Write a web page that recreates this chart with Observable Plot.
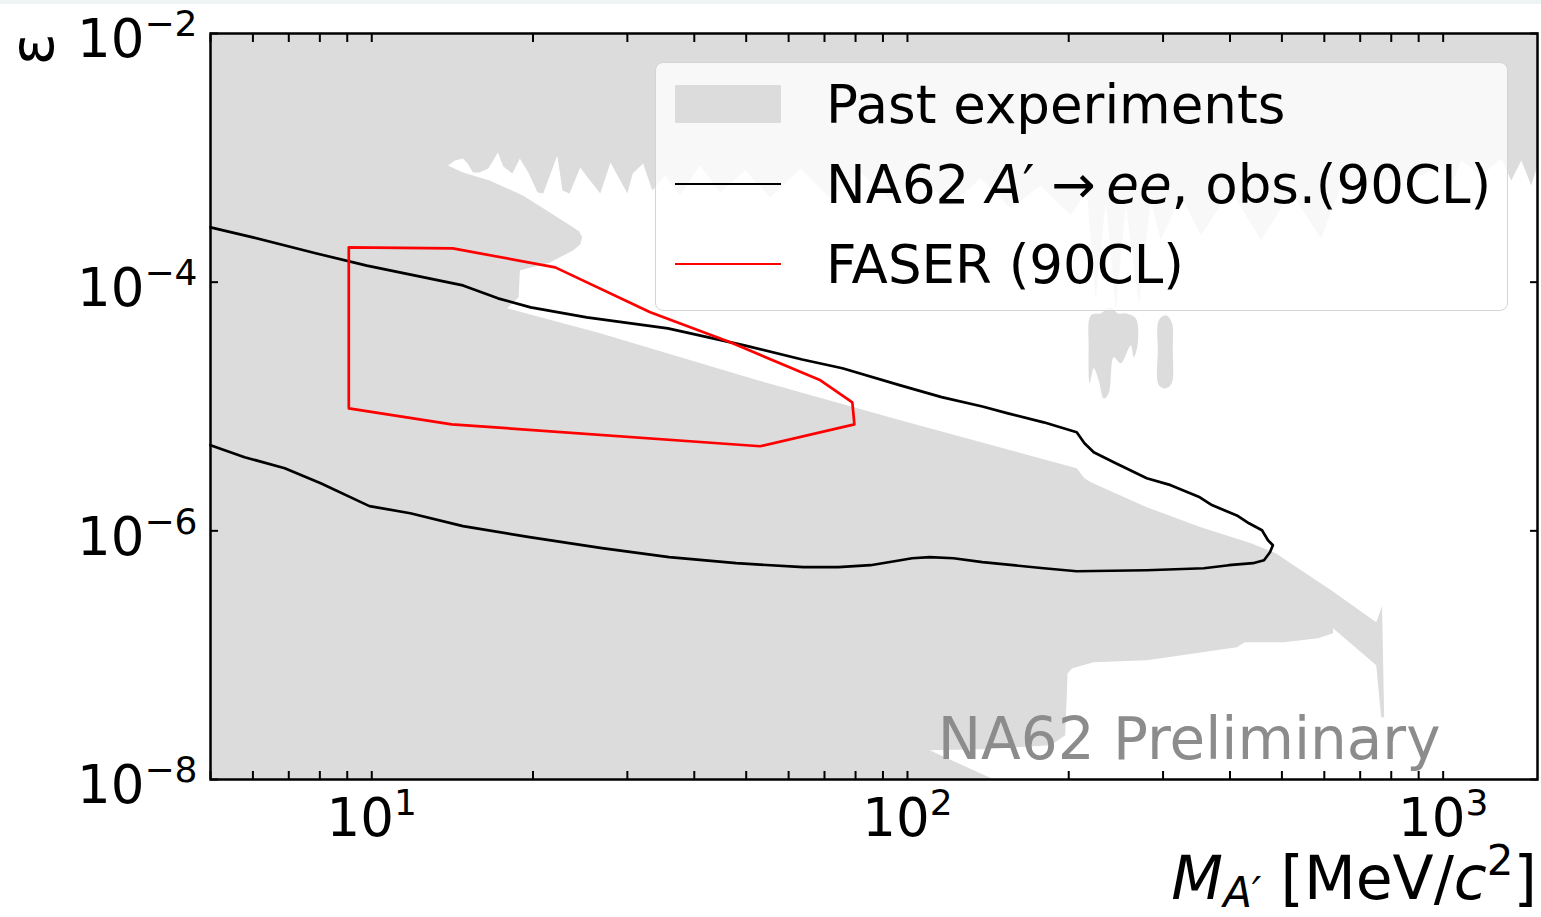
<!DOCTYPE html>
<html><head><meta charset="utf-8">
<script src="https://cdn.jsdelivr.net/npm/d3@7"></script>
<script src="https://cdn.jsdelivr.net/npm/@observablehq/plot@0.6"></script>
<style>
html,body{margin:0;padding:0;background:#fff;overflow:hidden;}
#wrap{position:relative;width:1541px;height:917px;font-family:"DejaVu Sans";}
#chart svg{display:block;}
#strip{position:absolute;left:0;top:0;width:1541px;height:4px;background:#eef3f3;}
#legend{position:absolute;left:655px;top:62px;width:853px;height:249px;box-sizing:border-box;border:1.5px solid #d4d4d4;border-radius:8px;background:rgba(255,255,255,0.8);padding-top:1px;}
.row{height:80px;display:flex;align-items:center;font-size:53px;color:#000;white-space:nowrap;font-family:"DejaVu Sans";}
.sw{width:106px;margin-left:19px;margin-right:45px;flex:none;}
</style></head>
<body><div id="wrap"><div id="chart"></div><div id="legend"></div><div id="strip"></div></div>
<script>
// ---- axis setup ----
const xDomain = [5, 1500];
const yDomain = [1e-8, 1e-2];
const xMajorTicks = [10, 100, 1000];
const xMinorTicks = [5, 6, 7, 8, 9, 20, 30, 40, 50, 60, 70, 80, 90, 200, 300, 400, 500, 600, 700, 800, 900];
const yTicks = [1e-2, 1e-4, 1e-6, 1e-8];

// ---- NA62 A' -> ee observed contour (mass MeV, epsilon) ----
const na62Contour = [
 [5.0,2.76e-4],[6.0,2.29e-4],[7.89,1.70e-4],[9.79,1.36e-4],[14.8,9.42e-5],[17.2,7.41e-5],[19.8,6.27e-5],
 [25.2,5.21e-5],[35.7,4.25e-5],[40.9,3.73e-5],[49.6,3.10e-5],[63.6,2.39e-5],[75.6,2.03e-5],[97.0,1.48e-5],
 [115.8,1.19e-5],[138,1.00e-5],[154,8.81e-6],[179.6,7.46e-6],[207,6.20e-6],[214,5.06e-6],[222.7,4.28e-6],
 [242.7,3.56e-6],[279.7,2.65e-6],[310,2.33e-6],[351.4,1.86e-6],[370,1.61e-6],[412,1.33e-6],[434,1.15e-6],
 [459,1.01e-6],[471,8.40e-7],[481,7.66e-7],[475,6.73e-7],[463,5.80e-7],[441.5,5.49e-7],[398,5.29e-7],
 [357.5,5.00e-7],[279.7,4.82e-7],[207,4.73e-7],[179.6,5.00e-7],[138,5.60e-7],[121.9,6.02e-7],[110,6.14e-7],
 [102,6.02e-7],[97,5.80e-7],[85.3,5.29e-7],[74.3,5.10e-7],[63.9,5.10e-7],[47.9,5.49e-7],[35.9,6.14e-7],
 [26.9,7.25e-7],[19.7,8.89e-7],[14.8,1.09e-6],[11.8,1.385e-6],[9.9,1.58e-6],[8.03,2.41e-6],[6.88,3.19e-6],
 [5.79,3.91e-6],[5.0,4.88e-6]
];

// ---- FASER 90CL contour ----
const faserContour = [
 [9.06,1.905e-4],[14.17,1.87e-4],[22.0,1.315e-4],[33.1,5.72e-5],[46.7,3.28e-5],[68.8,1.625e-5],
 [78.9,1.08e-5],[79.6,7.19e-6],[53.1,4.79e-6],[14.1,7.19e-6],[9.06,9.67e-6],[9.06,1.905e-4]
];

// ---- Past experiments: lower edge of the collider-type exclusion (left to right) ----
const pastColliderEdge = [
 [13.8,8.53e-4],[14.3,9.53e-4],[14.8,9.89e-4],[15.1,9.02e-4],[15.45,7.63e-4],[15.9,7.63e-4],[16.5,8.22e-4],
 [17.2,1.105e-3],[17.6,8.53e-4],[18.3,7.49e-4],[18.9,9.89e-4],[19.6,7.63e-4],[20.4,5.27e-4],[20.9,5.17e-4],
 [21.5,7.22e-4],[22.2,1.045e-3],[22.7,5.47e-4],[23.4,5.17e-4],[24.5,8.37e-4],[25.3,6.96e-4],[26.7,5.17e-4],
 [27.9,9.18e-4],[29.1,6.58e-4],[30.0,5.17e-4],[30.7,7.49e-4],[32.1,9.02e-4],[33.4,5.47e-4],[35.3,7.22e-4],
 [37.6,4.98e-4],[41.0,8.69e-4],[44.7,5.27e-4],[49.8,7.92e-4],[55.5,4.80e-4],[63.1,8.22e-4],[71.8,4.72e-4],
 [81.7,7.63e-4],[93.0,4.55e-4],[105.8,7.22e-4],[120.3,4.14e-4],[136.9,6.83e-4],[155.8,3.92e-4],[177.3,6.00e-4],
 [201.7,3.44e-4],[216.1,5.47e-4],[224.6,7.14e-5],[234.5,4.55e-4],[244.8,5.93e-5],[255.6,4.14e-4],[270.3,6.51e-5],
 [284.6,4.55e-4],[297.1,2.17e-4],[323.8,4.98e-4],[352.9,2.38e-4],[401.6,5.47e-4],[456.9,2.17e-4],[519.9,5.27e-4],
 [591.6,2.25e-4],[644.7,6.00e-4],[765.9,6.58e-4],[909.8,7.22e-4],[991.5,8.69e-4],[1035,6.00e-4],[1080,9.53e-4],
 [1178,7.22e-4],[1283,9.89e-4],[1340,6.58e-4],[1399,9.53e-4],[1460,6.00e-4],[1500,8.69e-4]
];

// ---- Past experiments: beam-dump / low-mass region outline ----
const pastBeamDump = [
 [5,1e-2],[14.0,8.53e-4],[14.8,7.63e-4],[16.6,6.58e-4],[19.15,4.98e-4],[21.5,3.64e-4],[23.75,2.76e-4],
 [24.4,2.56e-4],[24.7,2.29e-4],[24.5,2.01e-4],[23.75,1.80e-4],[21.5,1.44e-4],[19.5,1.29e-4],[18.9,1.24e-4],
 [18.8,7.55e-5],[17.9,6.16e-5],
 [26.7,3.88e-5],[52.7,1.62e-5],[97.0,7.74e-6],[207,3.19e-6],[214,2.65e-6],[220,2.46e-6],[279.7,1.55e-6],
 [352.9,1.07e-6],[438,7.95e-7],[487,6.60e-7],[543,4.82e-7],[618,3.33e-7],[750,1.84e-7],[769,2.48e-7],
 [776,3.17e-8],[766,3.17e-8],[750,8.31e-8],[623,1.65e-7],[623,1.50e-7],[584,1.37e-7],[504,1.27e-7],
 [426,1.27e-7],[412,1.16e-7],[279.7,9.12e-8],[222.7,8.79e-8],[203,7.86e-8],[199,7.17e-8],[198,3.96e-8],
 [197,2.27e-8],[185,1.89e-8],[143,1.76e-8],[110,1.72e-8],[145,1e-8],[5,1e-8]
];

// ---- Past experiments: small islands ----
const pastIsland1 = [
 [220,5.41e-5],[229.5,5.61e-5],[239.6,6.27e-5],[246.9,5.61e-5],[255.6,5.61e-5],[266.8,5.12e-5],[269.1,3.22e-5],
 [264.5,2.49e-5],[261.1,3.10e-5],[250.1,2.23e-5],[242.7,2.49e-5],[237.5,1.28e-5],[232.5,1.16e-5],[227.5,1.62e-5],
 [222.7,2.03e-5],[218.9,1.54e-5],[217.9,2.99e-5]
];
const pastIsland2 = [
 [303.5,5.41e-5],[311.4,4.75e-5],[312.8,2.83e-5],[311.4,1.54e-5],[303.5,1.40e-5],[294.6,1.48e-5],
 [293.3,2.83e-5],[294.6,4.93e-5]
];

const legendItems = [
 {kind: "patch", color: "#dcdcdc", html: "Past experiments"},
 {kind: "line", color: "#000000", html: "NA62 <i>A</i>′ →\u2009<i>ee</i>, obs.(90CL)"},
 {kind: "line", color: "#ff0000", html: "FASER (90CL)"}
];

// ---- build ----
const grey = "#dcdcdc";
const pastBand = [[xDomain[0], yDomain[1]], [xDomain[1], yDomain[1]],
  ...pastColliderEdge.slice().reverse(), [xDomain[0], pastColliderEdge[0][1]]];
const X = d => d[0], Y = d => d[1];
const supFmt = d => "10^" + Math.round(Math.log10(d));

const chart = Plot.plot({
  width: 1541, height: 917,
  marginLeft: 210, marginRight: 4, marginTop: 33, marginBottom: 138,
  x: {type: "log", domain: xDomain},
  y: {type: "log", domain: yDomain},
  style: {fontFamily: "DejaVu Sans", fontSize: "53px", background: "white", overflow: "visible", color: "black"},
  marks: [
    Plot.line(pastBand, {x: X, y: Y, fill: grey, stroke: "none"}),
    Plot.line(pastBeamDump, {x: X, y: Y, fill: grey, stroke: "none"}),
    Plot.line(pastIsland1, {x: X, y: Y, fill: grey, stroke: "none", curve: "catmull-rom-closed"}),
    Plot.line(pastIsland2, {x: X, y: Y, fill: grey, stroke: "none", curve: "catmull-rom-closed"}),
    Plot.text(["NA62 Preliminary"], {frameAnchor: "bottom-right", text: d => d, textAnchor: "end", lineAnchor: "bottom", dx: -97, dy: -21, fontSize: 58, fill: "#8c8c8c"}),
    Plot.line(na62Contour, {x: X, y: Y, stroke: "#000", strokeWidth: 2.7}),
    Plot.line(faserContour, {x: X, y: Y, stroke: "#ff0000", strokeWidth: 2.7}),
    Plot.frame({stroke: "#000", strokeWidth: 2.5}),
    Plot.axisX({anchor: "bottom", ticks: xMajorTicks.concat(xMinorTicks), tickSize: -8, strokeWidth: 2, tickFormat: () => "", label: null}),
    Plot.axisX({anchor: "top", ticks: xMajorTicks.concat(xMinorTicks), tickSize: -8, strokeWidth: 2, tickFormat: () => "", label: null}),
    Plot.axisY({anchor: "left", ticks: yTicks, tickSize: -8, strokeWidth: 2, tickFormat: () => "", label: null}),
    Plot.axisY({anchor: "right", ticks: yTicks, tickSize: -8, strokeWidth: 2, tickFormat: () => "", label: null}),
    Plot.axisX({anchor: "bottom", ticks: xMajorTicks, tickSize: 0, tickPadding: 19, tickFormat: supFmt, label: null, fontSize: 53}),
    Plot.axisY({anchor: "left", ticks: yTicks, tickSize: 0, tickPadding: 13, tickFormat: supFmt, label: null, fontSize: 53, dy: 7})
  ]
});
document.getElementById("chart").appendChild(chart);

// superscripts in tick labels
const svg = d3.select(chart);
svg.selectAll("text").each(function() {
  const t = this.textContent;
  const i = t.indexOf("^");
  if (i < 0 || this.querySelector("tspan")) return;
  const base = t.slice(0, i);
  const exp = t.slice(i + 1).replace("-", "\u2212");
  const s = d3.select(this);
  s.text(base);
  s.append("tspan").attr("dy", -21).attr("font-size", 36).text(exp);
});

// x axis label
const xl = svg.append("text").attr("x", 1537).attr("y", 899).attr("text-anchor", "end")
  .attr("font-size", 60).attr("font-family", "DejaVu Sans").attr("fill", "#000");
xl.append("tspan").attr("font-style", "italic").text("M");
xl.append("tspan").attr("font-style", "italic").attr("font-size", 42).attr("dy", 8).text("A′");
xl.append("tspan").attr("dy", -8).text(" [MeV/");
xl.append("tspan").attr("font-style", "italic").text("c");
xl.append("tspan").attr("font-size", 42).attr("dy", -24).text("2");
xl.append("tspan").attr("dy", 24).text("]");

// y axis label
svg.append("text").attr("transform", "translate(53,33) rotate(-90)").attr("text-anchor", "end")
  .attr("font-size", 60).attr("font-family", "DejaVu Sans").attr("fill", "#000").text("ε");

// legend
const leg = d3.select("#legend");
legendItems.forEach(it => {
  const row = leg.append("div").attr("class", "row");
  row.append("div").attr("class", "sw")
    .style("height", it.kind === "patch" ? "38px" : "2.5px")
    .style("background", it.color);
  row.append("span").html(it.html);
});
</script></body></html>
